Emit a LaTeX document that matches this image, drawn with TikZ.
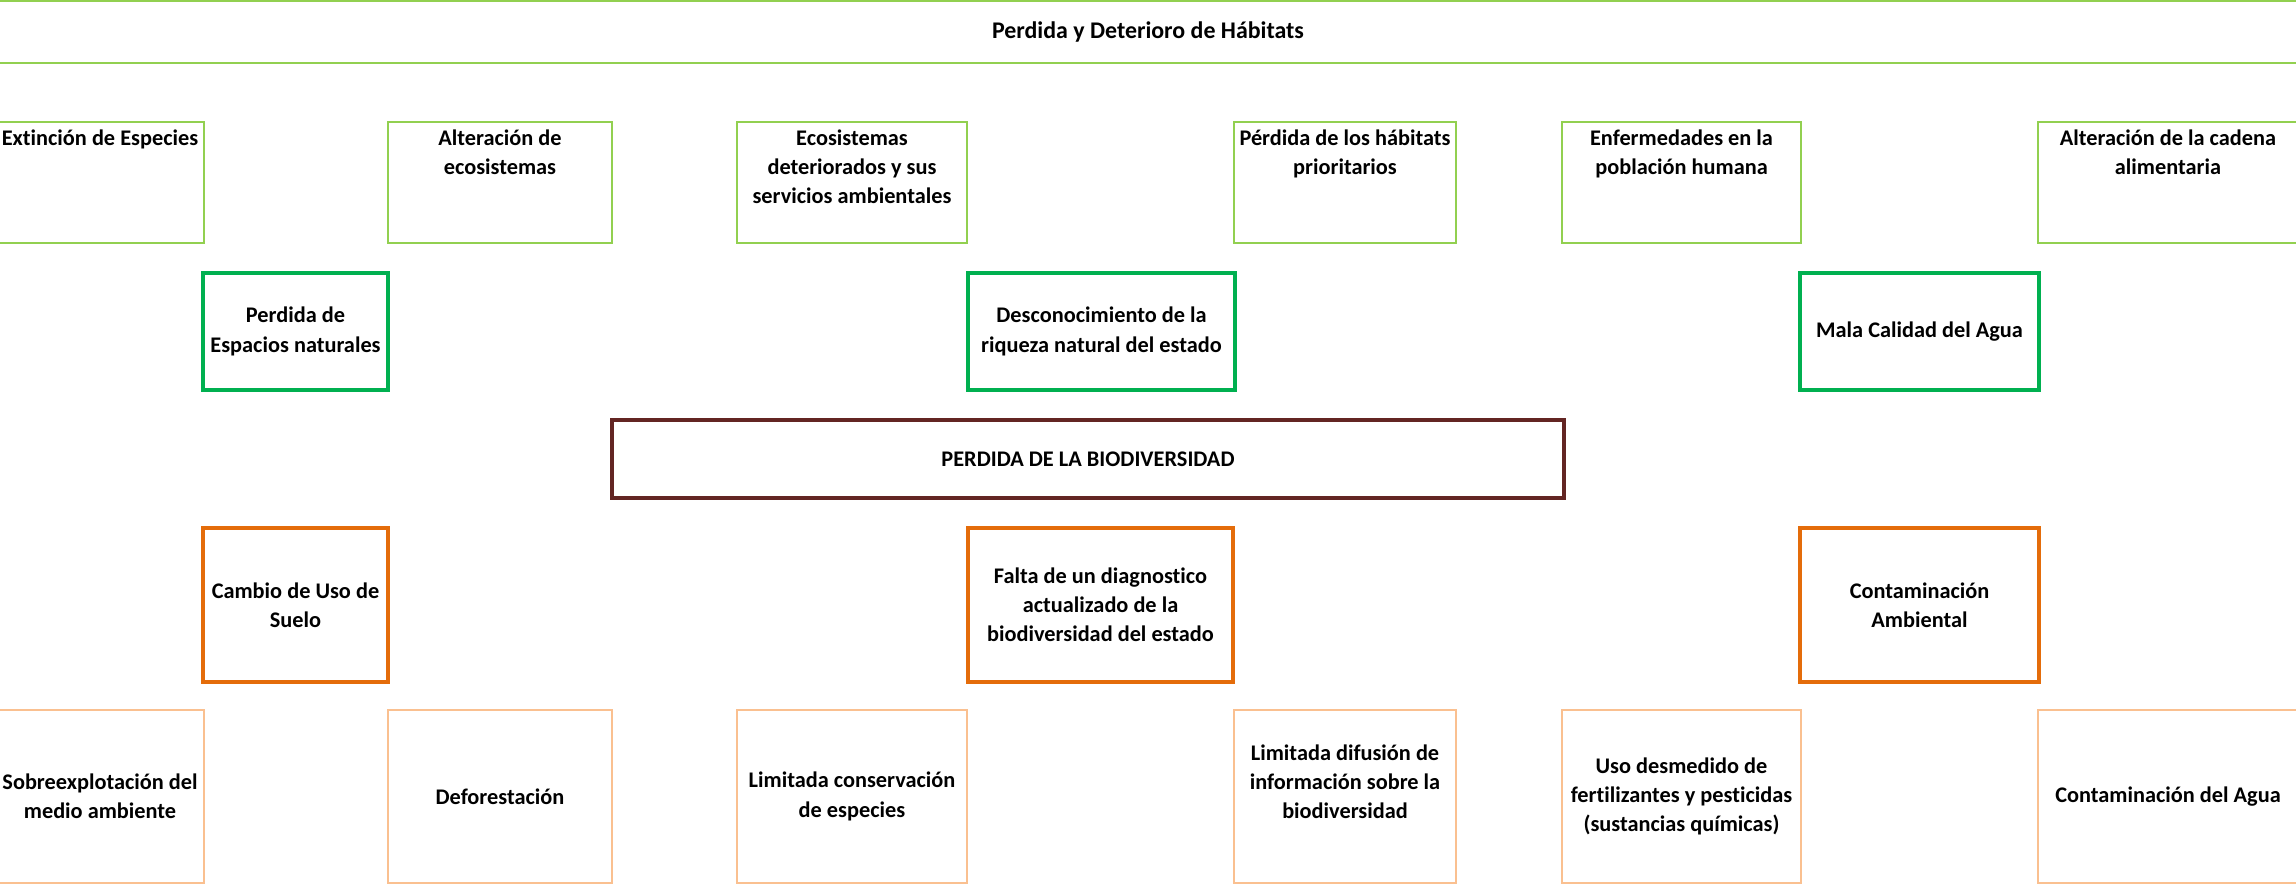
\documentclass[tikz,border=0pt]{standalone}
\usepackage{fontspec}
\setmainfont{Carlito}[Ligatures=NoCommon]
\usetikzlibrary{positioning}

\definecolor{verdeclaro}{HTML}{92D050}
\definecolor{verdeosc}{HTML}{00B050}
\definecolor{naranja}{HTML}{E46C0A}
\definecolor{durazno}{HTML}{FAC090}
\definecolor{vino}{HTML}{632523}

\tikzset{
  texto/.style={align=center, inner sep=0pt, font=\bfseries\fontsize{12.7}{16.6}\selectfont},
  caja/.style={texto, rectangle, outer sep=0pt},
  efecto/.style={caja, draw=verdeclaro, line width=1.1pt, minimum height=2.42cm},
  efectomed/.style={caja, draw=verdeosc, line width=2.3pt, minimum height=2.34cm},
  problema/.style={caja, draw=vino, line width=2pt, minimum width=19.04cm, minimum height=1.56cm},
  causa/.style={caja, draw=naranja, line width=2.3pt, minimum height=3.08cm},
  raiz/.style={caja, draw=durazno, line width=1.1pt, minimum height=3.46cm}
}

\begin{document}
\begin{tikzpicture}
  \useasboundingbox (0,0) rectangle (45.92,-17.70);

  % titulo
  \node[caja, draw=verdeclaro, line width=1.1pt, minimum width=46.4cm, minimum height=1.24cm,
    font=\bfseries\fontsize{13.6}{16.6}\selectfont]
    (titulo) at (22.96,-0.64) {Perdida y Deterioro de Hábitats};

  % efectos
  \node[efecto, minimum width=4.16cm] (e1) at (2.00,-3.65) {};
  \node[efecto, minimum width=4.48cm] (e2) at (10.00,-3.65) {};
  \node[efecto, minimum width=4.60cm] (e3) at (17.04,-3.65) {};
  \node[efecto, minimum width=4.44cm] (e4) at (26.90,-3.65) {};
  \node[efecto, minimum width=4.78cm] (e5) at (33.63,-3.65) {};
  \node[efecto, minimum width=5.20cm] (e6) at (43.36,-3.65) {};
  \node[texto, below=0.14cm of e1.north] (te1) {Extinción de Especies};
  \node[texto, below=0.14cm of e2.north] (te2) {Alteración de\\ecosistemas};
  \node[texto, below=0.14cm of e3.north] (te3) {Ecosistemas\\deteriorados y sus\\servicios ambientales};
  \node[texto, below=0.14cm of e4.north] (te4) {Pérdida de los hábitats\\prioritarios};
  \node[texto, below=0.14cm of e5.north] (te5) {Enfermedades en la\\población humana};
  \node[texto, below=0.14cm of e6.north] (te6) {Alteración de la cadena\\alimentaria};

  \node[efectomed, minimum width=3.70cm] (m1) at (5.91,-6.63) {Perdida de\\Espacios naturales};
  \node[efectomed, minimum width=5.34cm] (m2) at (22.03,-6.63) {Desconocimiento de la\\riqueza natural del estado};
  \node[efectomed, minimum width=4.78cm] (m3) at (38.39,-6.63) {Mala Calidad del Agua};

  % problema central
  \node[problema] (prob) at (21.76,-9.18) {PERDIDA DE LA BIODIVERSIDAD};

  % causas
  \node[causa, minimum width=3.70cm] (c1) at (5.91,-12.10) {Cambio de Uso de\\Suelo};
  \node[causa, minimum width=5.30cm] (c2) at (22.01,-12.10) {Falta de un diagnostico\\actualizado de la\\biodiversidad del estado};
  \node[causa, minimum width=4.78cm] (c3) at (38.39,-12.10) {Contaminación\\Ambiental};

  \node[raiz, minimum width=4.16cm] (r1) at (2.00,-15.93) {Sobreexplotación del\\medio ambiente};
  \node[raiz, minimum width=4.48cm] (r2) at (10.00,-15.93) {Deforestación};
  \node[raiz, minimum width=4.60cm] (r3) at (17.04,-15.93) {Limitada conservación\\de especies};
  \node[raiz, minimum width=4.44cm] (r4) at (26.90,-15.93) {Limitada difusión de\\información sobre la\\biodiversidad\\\mbox{}};
  \node[raiz, minimum width=4.78cm] (r5) at (33.63,-15.93) {Uso desmedido de\\fertilizantes y pesticidas\\(sustancias químicas)};
  \node[raiz, minimum width=5.20cm] (r6) at (43.36,-15.93) {Contaminación del Agua};
\end{tikzpicture}
\end{document}
